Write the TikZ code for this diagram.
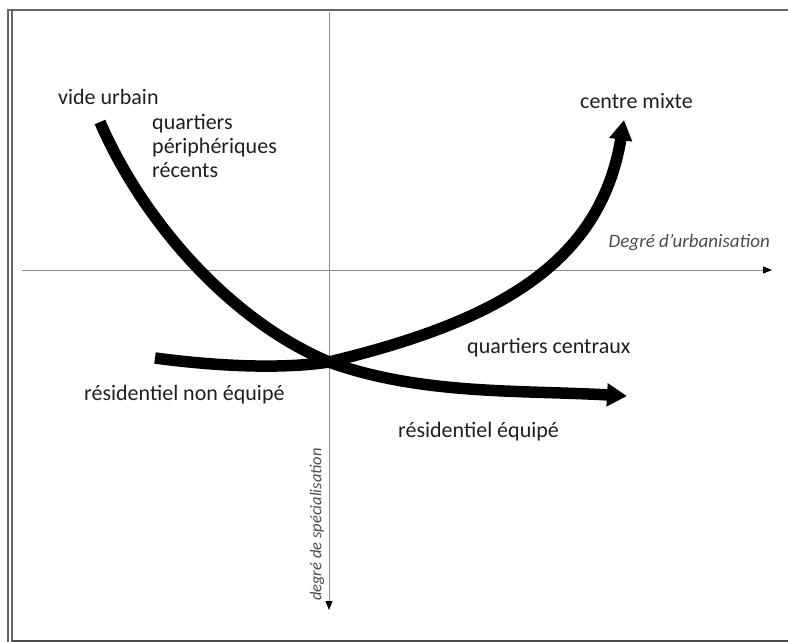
\documentclass[tikz,border=0pt]{standalone}
\usepackage{fontspec}
\setmainfont{Carlito}
\usetikzlibrary{arrows.meta}
\begin{document}
\begin{tikzpicture}[x=1pt,y=-1pt,
  axis/.style={draw=black!45,line width=0.9pt,-{Triangle[length=9pt,width=7pt,color=black]}},
  thick curve/.style={line width=11.5pt,-{Triangle[length=20pt,width=22pt]}},
  lbl/.style={inner sep=0pt,anchor=west,font=\fontsize{22}{24}\selectfont,text=black!88},
  axlbl/.style={inner sep=0pt,font=\fontsize{19}{22}\selectfont\itshape,text=black!70}]
\useasboundingbox (0,0) rectangle (788,642);
% frame
\draw[black!60,line width=2.2pt] (7,10) -- (788,10);
\draw[black!60,line width=1.8pt] (8,10) -- (8,642);
\draw[black!60,line width=1.2pt] (12,10) -- (12,642);
\draw[black!70,line width=2pt] (12,641) -- (788,641);
% axes
\coordinate (vtop) at (329,12);
\coordinate (vbot) at (329,610);
\coordinate (hl) at (22,270);
\coordinate (hr) at (772,270);
\draw[axis] (vtop) -- (vbot);
\draw[axis] (hl) -- (hr);
% curves
\coordinate (a0) at (100,122);
\coordinate (x0) at (329,362);
\coordinate (a1) at (627,396);
\coordinate (b0) at (155,358);
\coordinate (b1) at (624,120);
\draw[line width=11.5pt] (a0) .. controls (140,215) and (225,318) .. (x0);
\draw[thick curve] (x0) .. controls (420,395) and (520,390) .. (a1);
\draw[line width=11.5pt] (b0) .. controls (230,368) and (290,368) .. (x0);
\draw[thick curve] (x0) .. controls (495,322) and (600,265) .. (b1);
% labels
\node[lbl] (vu) at (58,97) {vide urbain};
\node[lbl,align=left,anchor=north west] (qp) at (152,114) {quartiers\\périphériques\\récents};
\node[lbl] (cm) at (580,101) {centre mixte};
\node[lbl] (qc) at (467,348) {quartiers centraux};
\node[lbl] (rne) at (84,395) {résidentiel non équipé};
\node[lbl] (re) at (398,432) {résidentiel équipé};
\node[axlbl,anchor=east] (du) at (770,243) {Degré d'urbanisation};
\node[axlbl,rotate=90,anchor=east,font=\fontsize{16.5}{20}\selectfont\itshape] (ds) at (317,448) {degré de spécialisation};
\end{tikzpicture}
\end{document}
